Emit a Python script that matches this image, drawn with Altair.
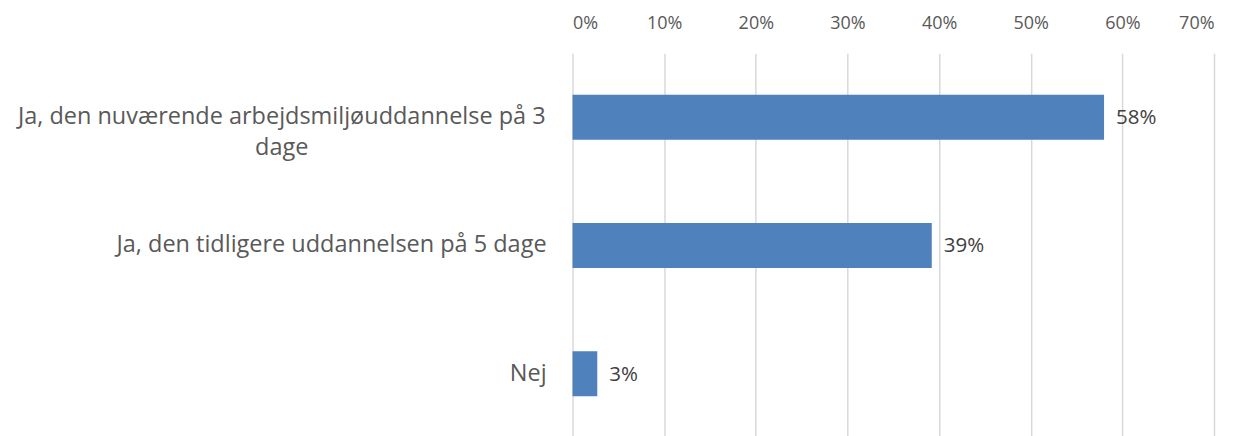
import altair as alt
import pandas as pd

categories = ["Ja, den nuværende arbejdsmiljøuddannelse på 3\ndage",
              "Ja, den tidligere uddannelsen på 5 dage",
              "Nej"]
values = [0.58, 0.392, 0.027]
label_align = ["center", "right", "right"]

df = pd.DataFrame({"cat": categories, "val": values, "al": label_align})
FONT = "Open Sans"

y = alt.Y("cat:N", sort=categories, axis=None,
          scale=alt.Scale(paddingInner=0.65, paddingOuter=0.325))

bars = alt.Chart(df).mark_bar(color="#4F81BD").encode(
    x=alt.X("val:Q", scale=alt.Scale(domain=[0, 0.7]),
            axis=alt.Axis(orient="top", format=".0%", values=[0, .1, .2, .3, .4, .5, .6, .7],
                          domain=False, ticks=False, grid=True, gridColor="#d9d9d9",
                          gridWidth=1.5, labelFont=FONT, labelFontSize=18,
                          labelColor="#595959", labelPadding=21, title=None)),
    y=y,
)

vals = alt.Chart(df).mark_text(align="left", baseline="middle", dx=12, dy=1, font=FONT,
                               fontSize=20.5, color="#404040").encode(
    x="val:Q", y=y, text=alt.Text("val:Q", format=".0%"))

lab_c = alt.Chart(df[df.al == "center"]).mark_text(
    align="center", baseline="middle", font=FONT, fontSize=23.5, color="#595959",
    lineBreak="\n", lineHeight=31).encode(
    x=alt.value(-291), y=y, text="cat:N")

lab_r = alt.Chart(df[df.al == "right"]).mark_text(
    align="right", baseline="middle", font=FONT, fontSize=23.5, color="#595959").encode(
    x=alt.value(-26), y=y, text="cat:N")

chart = alt.layer(bars, vals, lab_c, lab_r).properties(
    width=642, height=385,
    autosize=alt.AutoSizeParams(type="none"),
    padding={"left": 565, "top": 45, "right": 20, "bottom": 0},
).configure_view(stroke=None)

chart.save("out.html", embed_options={"renderer": "svg", "actions": False})
